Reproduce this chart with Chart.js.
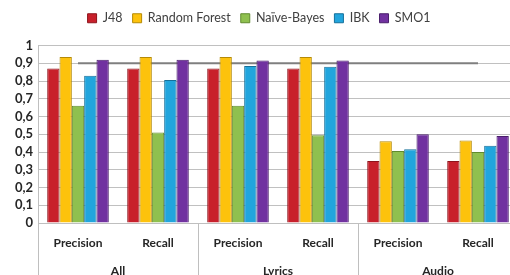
<!DOCTYPE html>
<html>
<head>
<meta charset="utf-8">
<script src="https://cdn.jsdelivr.net/npm/chart.js@4"></script>
<style>
  html, body { margin: 0; padding: 0; background: #fff; overflow: hidden; }
  #wrap { width: 510px; height: 275px; overflow: hidden; }
</style>
</head>
<body>
<div id="wrap"><canvas id="chart" width="520" height="275"></canvas></div>
<script>
// categories (two levels)
const metrics = ['Precision', 'Recall', 'Precision', 'Recall', 'Precision', 'Recall'];
const groups = ['All', 'Lyrics', 'Audio'];
const yTicks = [0, 0.1, 0.2, 0.3, 0.4, 0.5, 0.6, 0.7, 0.8, 0.9, 1];

// series values
const j48 = [0.87, 0.87, 0.87, 0.87, 0.35, 0.35];
const randomForest = [0.935, 0.935, 0.935, 0.935, 0.46, 0.465];
const naiveBayes = [0.66, 0.51, 0.66, 0.495, 0.405, 0.40];
const ibk = [0.83, 0.805, 0.885, 0.88, 0.415, 0.435];
const smo1 = [0.92, 0.92, 0.915, 0.915, 0.50, 0.49];
const threshold = [0.9, 0.9, 0.9, 0.9, 0.9, 0.9];

const font = 'Lato, "Open Sans", sans-serif';

function barSet(label, data, fill, edge) {
    return {
        type: 'bar',
        label: label,
        data: data,
        backgroundColor: fill,
        borderColor: edge,
        borderWidth: 1,
        xAxisID: 'x',
        order: 0
    };
}

// vertical separators between the groups, below the plot
const groupLines = {
    id: 'groupLines',
    afterDraw(chart) {
        const x = chart.scales.x;
        const c = chart.ctx;
        const half = (x.getPixelForValue(1) - x.getPixelForValue(0)) / 2;
        c.save();
        c.strokeStyle = '#bfbfbf';
        c.lineWidth = 1;
        for (let i = 0; i <= metrics.length; i += 2) {
            const px = Math.round(x.getPixelForValue(i) - half) + 0.5;
            c.beginPath();
            c.moveTo(px, chart.chartArea.bottom);
            c.lineTo(px, chart.height);
            c.stroke();
        }
        c.restore();
    }
};

// a bit more room under the legend
const legendGap = {
    id: 'legendGap',
    beforeInit(chart) {
        const fit = chart.legend.fit;
        chart.legend.fit = function() {
            fit.call(this);
            this.height += 11;
        };
    }
};

new Chart(document.getElementById('chart').getContext('2d'), {
    data: {
        labels: metrics,
        datasets: [
            barSet('J48', j48, '#c8202b', '#8e141c'),
            barSet('Random Forest', randomForest, '#fdc20c', '#b58a05'),
            barSet('Naïve-Bayes', naiveBayes, '#8fc04f', '#5f8a2e'),
            barSet('IBK', ibk, '#22a5dd', '#15709a'),
            barSet('SMO1', smo1, '#7132a0', '#4a1f6b'),
            {
                type: 'line',
                label: 'threshold',
                data: threshold,
                borderColor: '#7f7f7f',
                borderWidth: 2,
                pointRadius: 0,
                xAxisID: 'x',
                order: 10
            }
        ]
    },
    options: {
        responsive: false,
        animation: false,
        layout: { padding: { top: 2, right: 2, bottom: 0, left: 0 } },
        datasets: {
            bar: { categoryPercentage: 0.77, barPercentage: 1.0 }
        },
        plugins: {
            tooltip: { enabled: false },
            legend: {
                position: 'top',
                labels: {
                    boxWidth: 9,
                    boxHeight: 9,
                    padding: 10,
                    color: '#404040',
                    font: { family: font, size: 12.5 },
                    filter: item => item.text !== 'threshold'
                }
            }
        },
        scales: {
            x: {
                type: 'category',
                offset: true,
                afterFit: s => { s.height = 34; },
                grid: { display: false, drawTicks: false },
                border: { color: '#bfbfbf' },
                ticks: {
                    color: '#262626',
                    padding: 13,
                    font: { family: font, size: 12, weight: 'bold' }
                }
            },
            xg: {
                type: 'category',
                labels: groups,
                position: 'bottom',
                offset: true,
                afterFit: s => { s.height = 18; },
                grid: { display: false, drawTicks: false },
                border: { display: false },
                ticks: {
                    color: '#262626',
                    padding: 7,
                    font: { family: font, size: 12, weight: 'bold' }
                }
            },
            y: {
                min: 0,
                max: 1,
                afterFit: s => { s.width = 38; },
                afterBuildTicks: s => { s.ticks = yTicks.map(v => ({ value: v })); },
                grid: { color: '#c0c0c0', drawTicks: false },
                border: { color: '#bfbfbf' },
                ticks: {
                    autoSkip: false,
                    color: '#262626',
                    padding: 5,
                    font: { family: font, size: 13, weight: 'bold' },
                    callback: v => String(Math.round(v * 10) / 10).replace('.', ',')
                }
            }
        }
    },
    plugins: [groupLines, legendGap]
});
</script>
</body>
</html>
